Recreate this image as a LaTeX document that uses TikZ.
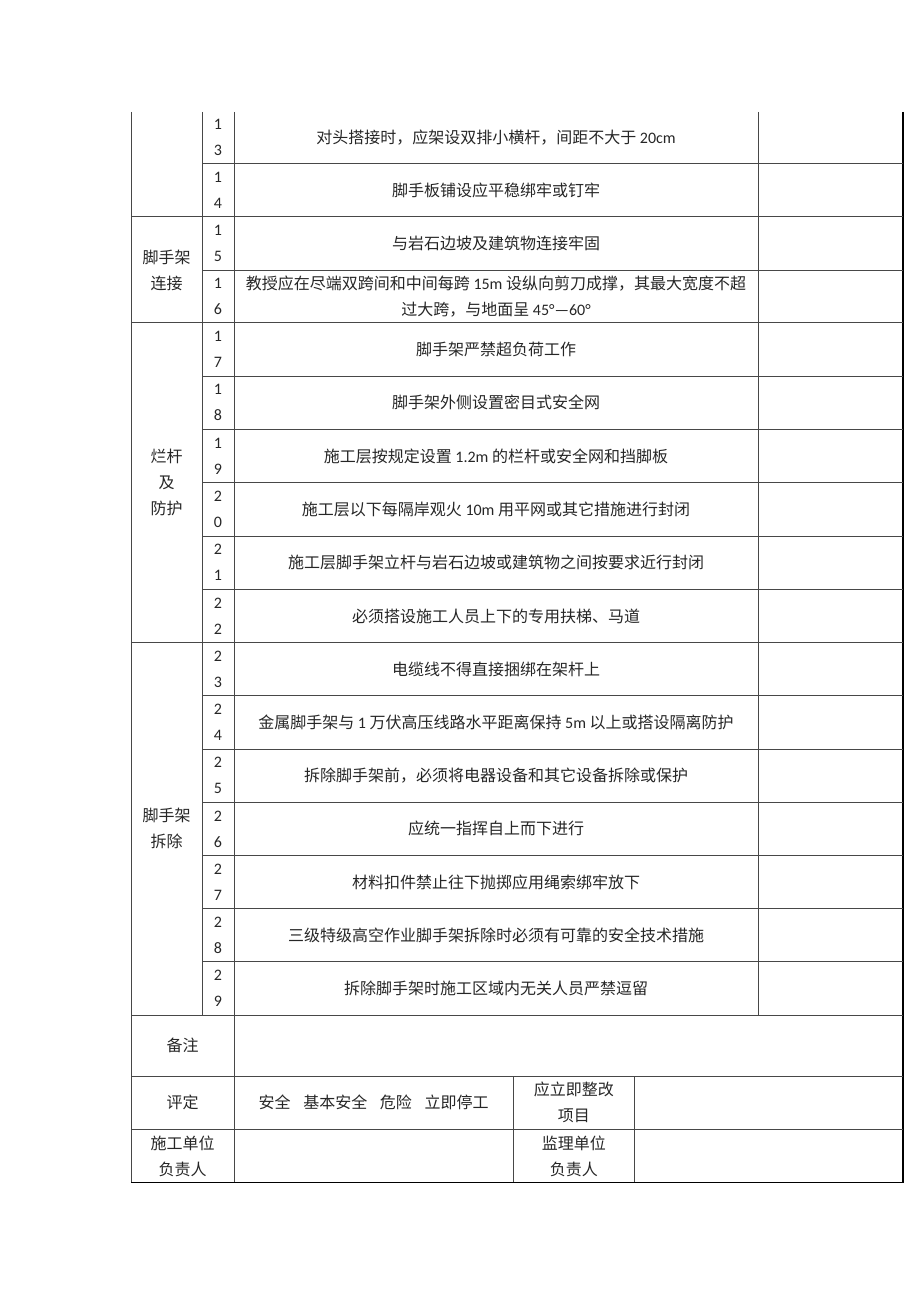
\documentclass[tikz,border=0pt]{standalone}
\usepackage{fontspec}
\setmainfont{Carlito}
\newfontfamily\cjk{Noto Sans CJK SC}
\newcommand\zh[1]{{\cjk #1}}
\begin{document}
\begin{tikzpicture}[x=0.75pt,y=-0.75pt,
  grid/.style={draw=black!72, line width=0.75pt},
  border/.style={draw=black, line width=1.1pt},
  txt/.style={font=\fontsize{12pt}{19.5pt}\selectfont, inner sep=0pt, align=center, text=black!85}]
\useasboundingbox (0,0) rectangle (920,1302);
% vertical lines
\draw[grid] (131,112) -- (131,1182.7);
\draw[grid] (202,112) -- (202,1015);
\draw[grid] (234,112) -- (234,1182.7);
\draw[grid] (758,112) -- (758,1015);
\draw[grid] (513.3,1076) -- (513.3,1182.7);
\draw[grid] (634.3,1076) -- (634.3,1182.7);
\draw[border] (903,112) -- (903,1182.7);
% inner row lines
\foreach \y in {163.3,270,376,429.3,482.7,536,589.3,695.9,749.1,802.3,855.5,908.7,961.9}
  \draw[grid] (202,\y) -- (903,\y);
% section lines
\foreach \y in {216.7,322.7,642.7,1015,1076,1129.3}
  \draw[grid] (131,\y) -- (903,\y);
\draw[border] (131,1182.7) -- (903.5,1182.7);
% rows
\foreach \n/\a/\b/\y/\t in {
 13/1/3/137.65/{\zh{对头搭接时，应架设双排小横杆，间距不大于} 20cm},
 14/1/4/190/{\zh{脚手板铺设应平稳绑牢或钉牢}},
 15/1/5/243.35/{\zh{与岩石边坡及建筑物连接牢固}},
 16/1/6/296.35/{\zh{教授应在尽端双跨间和中间每跨} 15m \zh{设纵向剪刀成撑，其最大宽度不超}\\\zh{过大跨，与地面呈} 45°—60°},
 17/1/7/349.35/{\zh{脚手架严禁超负荷工作}},
 18/1/8/402.65/{\zh{脚手架外侧设置密目式安全网}},
 19/1/9/456/{\zh{施工层按规定设置} 1.2m \zh{的栏杆或安全网和挡脚板}},
 20/2/0/509.35/{\zh{施工层以下每隔岸观火} 10m \zh{用平网或其它措施进行封闭}},
 21/2/1/562.65/{\zh{施工层脚手架立杆与岩石边坡或建筑物之间按要求近行封闭}},
 22/2/2/616/{\zh{必须搭设施工人员上下的专用扶梯、马道}},
 23/2/3/669.3/{\zh{电缆线不得直接捆绑在架杆上}},
 24/2/4/722.5/{\zh{金属脚手架与} 1 \zh{万伏高压线路水平距离保持} 5m \zh{以上或搭设隔离防护}},
 25/2/5/775.7/{\zh{拆除脚手架前，必须将电器设备和其它设备拆除或保护}},
 26/2/6/828.9/{\zh{应统一指挥自上而下进行}},
 27/2/7/882.1/{\zh{材料扣件禁止往下抛掷应用绳索绑牢放下}},
 28/2/8/935.3/{\zh{三级特级高空作业脚手架拆除时必须有可靠的安全技术措施}},
 29/2/9/988.45/{\zh{拆除脚手架时施工区域内无关人员严禁逗留}}} {
  \node[txt] (n\n) at (218,\y) {\a\\\b};
  \node[txt] (t\n) at (496,\y) {\t};
}
% section labels
\node[txt] (s1) at (166.5,270) {\zh{脚手架}\\\zh{连接}};
\node[txt] (s2) at (166.5,482.7) {\zh{烂杆}\\\zh{及}\\\zh{防护}};
\node[txt] (s3) at (166.5,828.9) {\zh{脚手架}\\\zh{拆除}};
% bottom rows
\node[txt] (bz) at (182.5,1045.5) {\zh{备注}};
\node[txt] (pd) at (182.5,1102.7) {\zh{评定}};
\node[txt] (pdv) at (373.6,1102.7) {\zh{安全}\hspace{9.5pt}\zh{基本安全}\hspace{9.5pt}\zh{危险}\hspace{9.5pt}\zh{立即停工}};
\node[txt] (zg) at (573.8,1102.7) {\zh{应立即整改}\\\zh{项目}};
\node[txt] (sg) at (182.5,1156) {\zh{施工单位}\\\zh{负责人}};
\node[txt] (jl) at (573.8,1156) {\zh{监理单位}\\\zh{负责人}};
\end{tikzpicture}
\end{document}
